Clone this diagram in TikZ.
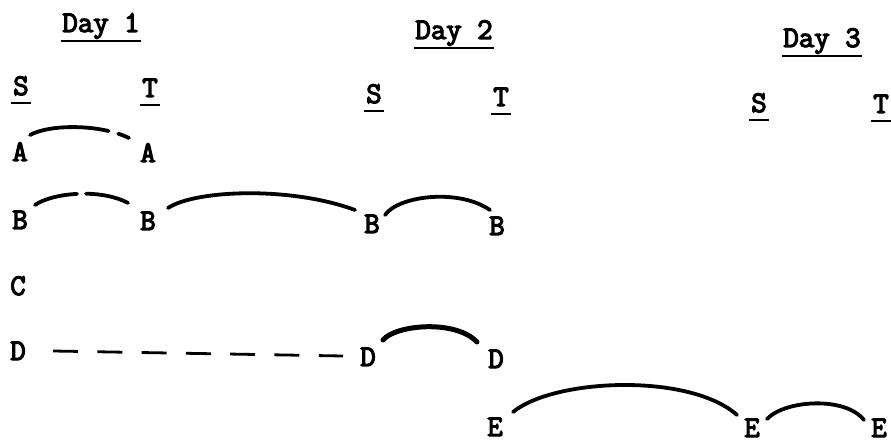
\documentclass[tikz,border=0pt]{standalone}
\usepackage{fontspec}
\newfontfamily\twfont[FakeBold=4]{Latin Modern Mono}
\begin{document}
\begin{tikzpicture}[x=1pt,y=-1pt,
  lbl/.style={font=\twfont\fontsize{30}{30}\selectfont\bfseries, inner sep=0pt, anchor=base},
  uline/.style={line width=2.6pt},
  arcline/.style={line width=3.8pt, line cap=round},
  dashline/.style={line width=2.8pt, dash pattern=on 25pt off 19.3pt}]
\useasboundingbox (0,0) rectangle (891,443);
% headings
\node[lbl] (day1) at (101,32) {Day 1};
\node[lbl] (day2) at (454,39) {Day 2};
\node[lbl] (day3) at (822,47) {Day 3};
\foreach \n in {day1,day2,day3}
  \draw[uline] ([shift={(-1,9)}]\n.base west) -- ([shift={(1,9)}]\n.base east);
% S / T
\node[lbl] (s1) at (21,95) {S};
\node[lbl] (t1) at (150,97) {T};
\node[lbl] (s2) at (374,103) {S};
\node[lbl] (t2) at (501,106) {T};
\node[lbl] (s3) at (759,112) {S};
\node[lbl] (t3) at (881,113) {T};
\foreach \n in {s1,t1,s2,t2,s3,t3}
  \draw[uline] ([shift={(-2,8)}]\n.base west) -- ([shift={(2,8)}]\n.base east);
% letters
\node[lbl] (a1) at (20,161) {A};
\node[lbl] (a2) at (148,162) {A};
\node[lbl] (b1) at (20,229) {B};
\node[lbl] (b2) at (148,230) {B};
\node[lbl] (b3) at (372,233) {B};
\node[lbl] (b4) at (497,235) {B};
\node[lbl] (c1) at (18,295) {C};
\node[lbl] (d1) at (18,360) {D};
\node[lbl] (d2) at (368,366) {D};
\node[lbl] (d3) at (496,368) {D};
\node[lbl] (e1) at (495,436) {E};
\node[lbl] (e2) at (752,437) {E};
\node[lbl] (e3) at (879,437) {E};
% arcs
\draw[arcline, dash pattern=on 80pt off 10pt on 60pt]
  ([shift={(10,-26)}]a1.base) .. controls (50,124) and (100,124) .. ([shift={(-19,-24)}]a2.base);
\draw[arcline, dash pattern=on 44pt off 9pt on 80pt]
  ([shift={(15,-24)}]b1.base) .. controls (52,193) and (100,188) .. ([shift={(-20,-27)}]b2.base);
\draw[arcline]
  ([shift={(20,-22)}]b2.base) .. controls (195,190) and (290,186) .. ([shift={(-17,-23)}]b3.base);
\draw[arcline]
  ([shift={(13,-18)}]b3.base) .. controls (398,196) and (458,188) .. ([shift={(-7,-25)}]b4.base);
\draw[dashline]
  ([shift={(35,-9)}]d1.base) -- ([shift={(-25,-10)}]d2.base);
\draw[arcline, line width=5pt]
  ([shift={(15,-26)}]d2.base) .. controls (395,325) and (455,319) .. ([shift={(-19,-26)}]d3.base);
\draw[arcline]
  ([shift={(18,-24)}]e1.base) .. controls (555,378) and (690,373) .. ([shift={(-15,-22)}]e2.base);
\draw[arcline]
  ([shift={(15,-18)}]e2.base) .. controls (785,400) and (845,396) .. ([shift={(-15,-17)}]e3.base);
\end{tikzpicture}
\end{document}
